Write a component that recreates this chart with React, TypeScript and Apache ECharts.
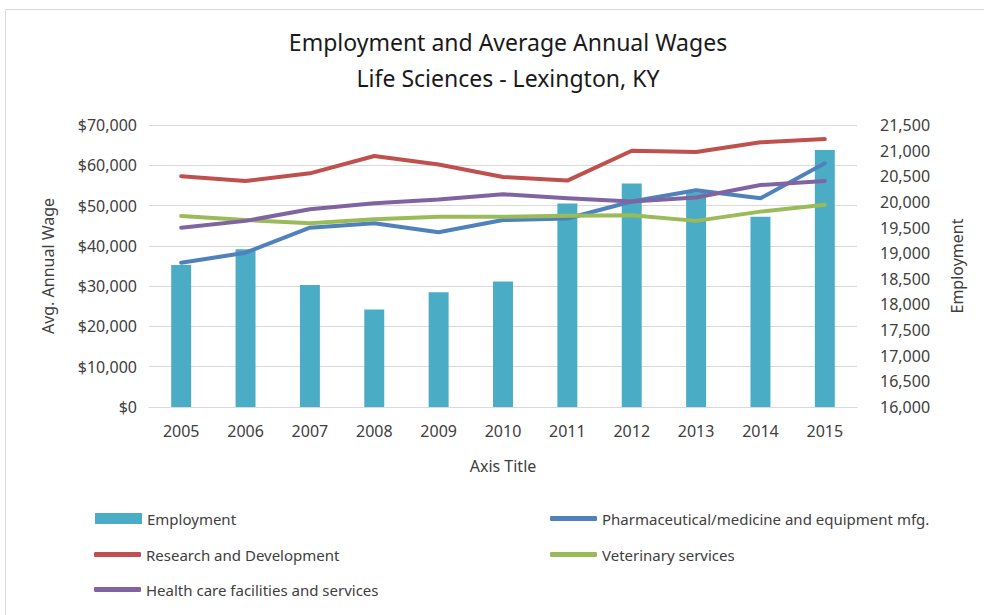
import React, { useEffect, useRef } from "react";
import * as echarts from "echarts";

const years = ["2005", "2006", "2007", "2008", "2009", "2010", "2011", "2012", "2013", "2014", "2015"];
const employment = [18770, 19075, 18380, 17900, 18240, 18450, 19970, 20360, 20190, 19710, 21010];
const pharma = [35800, 38300, 44500, 45600, 43400, 46400, 46800, 51000, 53800, 51800, 60500];
const research = [57300, 56100, 58000, 62300, 60200, 57100, 56200, 63600, 63300, 65700, 66500];
const veterinary = [47400, 46400, 45600, 46600, 47200, 47200, 47500, 47600, 46200, 48500, 50200];
const healthcare = [44500, 46200, 49100, 50600, 51500, 52800, 51800, 51000, 52000, 55100, 56100];

const FONT = '"Noto Sans", sans-serif';
const TXT = "#404040";

export default function App() {
  const ref = useRef<HTMLDivElement>(null);
  useEffect(() => {
    if (!ref.current) return;
    const chart = echarts.init(ref.current, undefined, { renderer: "svg" });
    const legendText = { color: TXT, fontSize: 15, fontFamily: FONT };
    const mkLegend = (name: string, left: number, top: number, icon: string, h: number) => ({
      data: [name],
      left,
      top,
      padding: 0,
      icon,
      itemWidth: 47,
      itemHeight: h,
      itemGap: 4,
      itemStyle: { borderWidth: 0 },
      textStyle: legendText,
      selectedMode: false,
    });
    chart.setOption({
      animation: false,
      backgroundColor: "#ffffff",
      textStyle: { fontFamily: FONT },
      title: {
        text: "Employment and Average Annual Wages\nLife Sciences - Lexington, KY",
        left: 503,
        textAlign: "center",
        top: 19,
        textStyle: { fontFamily: FONT, fontSize: 23, fontWeight: "normal", color: "#1a1a1a", lineHeight: 36 },
      },
      graphic: [
        {
          type: "rect",
          shape: { x: 5.5, y: 9.5, width: 1000, height: 700 },
          style: { fill: "none", stroke: "#d9d9d9", lineWidth: 1 },
          silent: true,
        },
      ],
      legend: [
        mkLegend("Employment", 95, 511, "rect", 11),
        mkLegend("Pharmaceutical/medicine and equipment mfg.", 550, 511, "roundRect", 5),
        mkLegend("Research and Development", 94, 547, "roundRect", 5),
        mkLegend("Veterinary services", 550, 547, "roundRect", 5),
        mkLegend("Health care facilities and services", 94, 582, "roundRect", 5),
      ],
      grid: { left: 149, right: 127, top: 125, bottom: 208, containLabel: false },
      xAxis: {
        type: "category",
        data: years,
        name: "Axis Title",
        nameLocation: "middle",
        nameGap: 51,
        nameTextStyle: { color: TXT, fontSize: 16, fontFamily: FONT },
        axisLine: { lineStyle: { color: "#d9d9d9", width: 1 } },
        axisTick: { show: false },
        axisLabel: { color: TXT, fontSize: 16, fontFamily: FONT, margin: 16 },
      },
      yAxis: [
        {
          type: "value",
          min: 0,
          max: 70000,
          interval: 10000,
          name: "Avg. Annual Wage",
          nameLocation: "middle",
          nameGap: 93,
          nameTextStyle: { color: TXT, fontSize: 16, fontFamily: FONT },
          axisLine: { show: false },
          axisTick: { show: false },
          splitLine: { lineStyle: { color: "#d9d9d9", width: 1 } },
          axisLabel: {
            color: TXT,
            fontSize: 16,
            fontFamily: FONT,
            margin: 12,
            formatter: (v: number) => "$" + v.toLocaleString("en-US"),
          },
        },
        {
          type: "value",
          min: 16000,
          max: 21500,
          interval: 500,
          name: "Employment",
          nameLocation: "middle",
          nameGap: 92,
          nameRotate: 90,
          nameTextStyle: { color: TXT, fontSize: 16, fontFamily: FONT },
          axisLine: { show: false },
          axisTick: { show: false },
          splitLine: { show: false },
          axisLabel: {
            color: TXT,
            fontSize: 16,
            fontFamily: FONT,
            margin: 23,
            formatter: (v: number) => v.toLocaleString("en-US"),
          },
        },
      ],
      series: [
        {
          name: "Employment",
          type: "bar",
          yAxisIndex: 1,
          data: employment,
          barWidth: "31%",
          itemStyle: { color: "#4BACC6" },
          z: 1,
        },
        {
          name: "Pharmaceutical/medicine and equipment mfg.",
          type: "line",
          yAxisIndex: 0,
          data: pharma,
          symbol: "none",
          color: "#4F81BD",
          lineStyle: { color: "#4F81BD", width: 4, cap: "round", join: "round" },
          z: 3,
        },
        {
          name: "Research and Development",
          type: "line",
          yAxisIndex: 0,
          data: research,
          symbol: "none",
          color: "#C0504D",
          lineStyle: { color: "#C0504D", width: 4, cap: "round", join: "round" },
          z: 3,
        },
        {
          name: "Veterinary services",
          type: "line",
          yAxisIndex: 0,
          data: veterinary,
          symbol: "none",
          color: "#9BBB59",
          lineStyle: { color: "#9BBB59", width: 4, cap: "round", join: "round" },
          z: 3,
        },
        {
          name: "Health care facilities and services",
          type: "line",
          yAxisIndex: 0,
          data: healthcare,
          symbol: "none",
          color: "#8064A2",
          lineStyle: { color: "#8064A2", width: 4, cap: "round", join: "round" },
          z: 3,
        },
      ],
    });
    return () => chart.dispose();
  }, []);
  return <div ref={ref} style={{ position: "fixed", left: 0, top: 0, width: 984, height: 615 }} />;
}
